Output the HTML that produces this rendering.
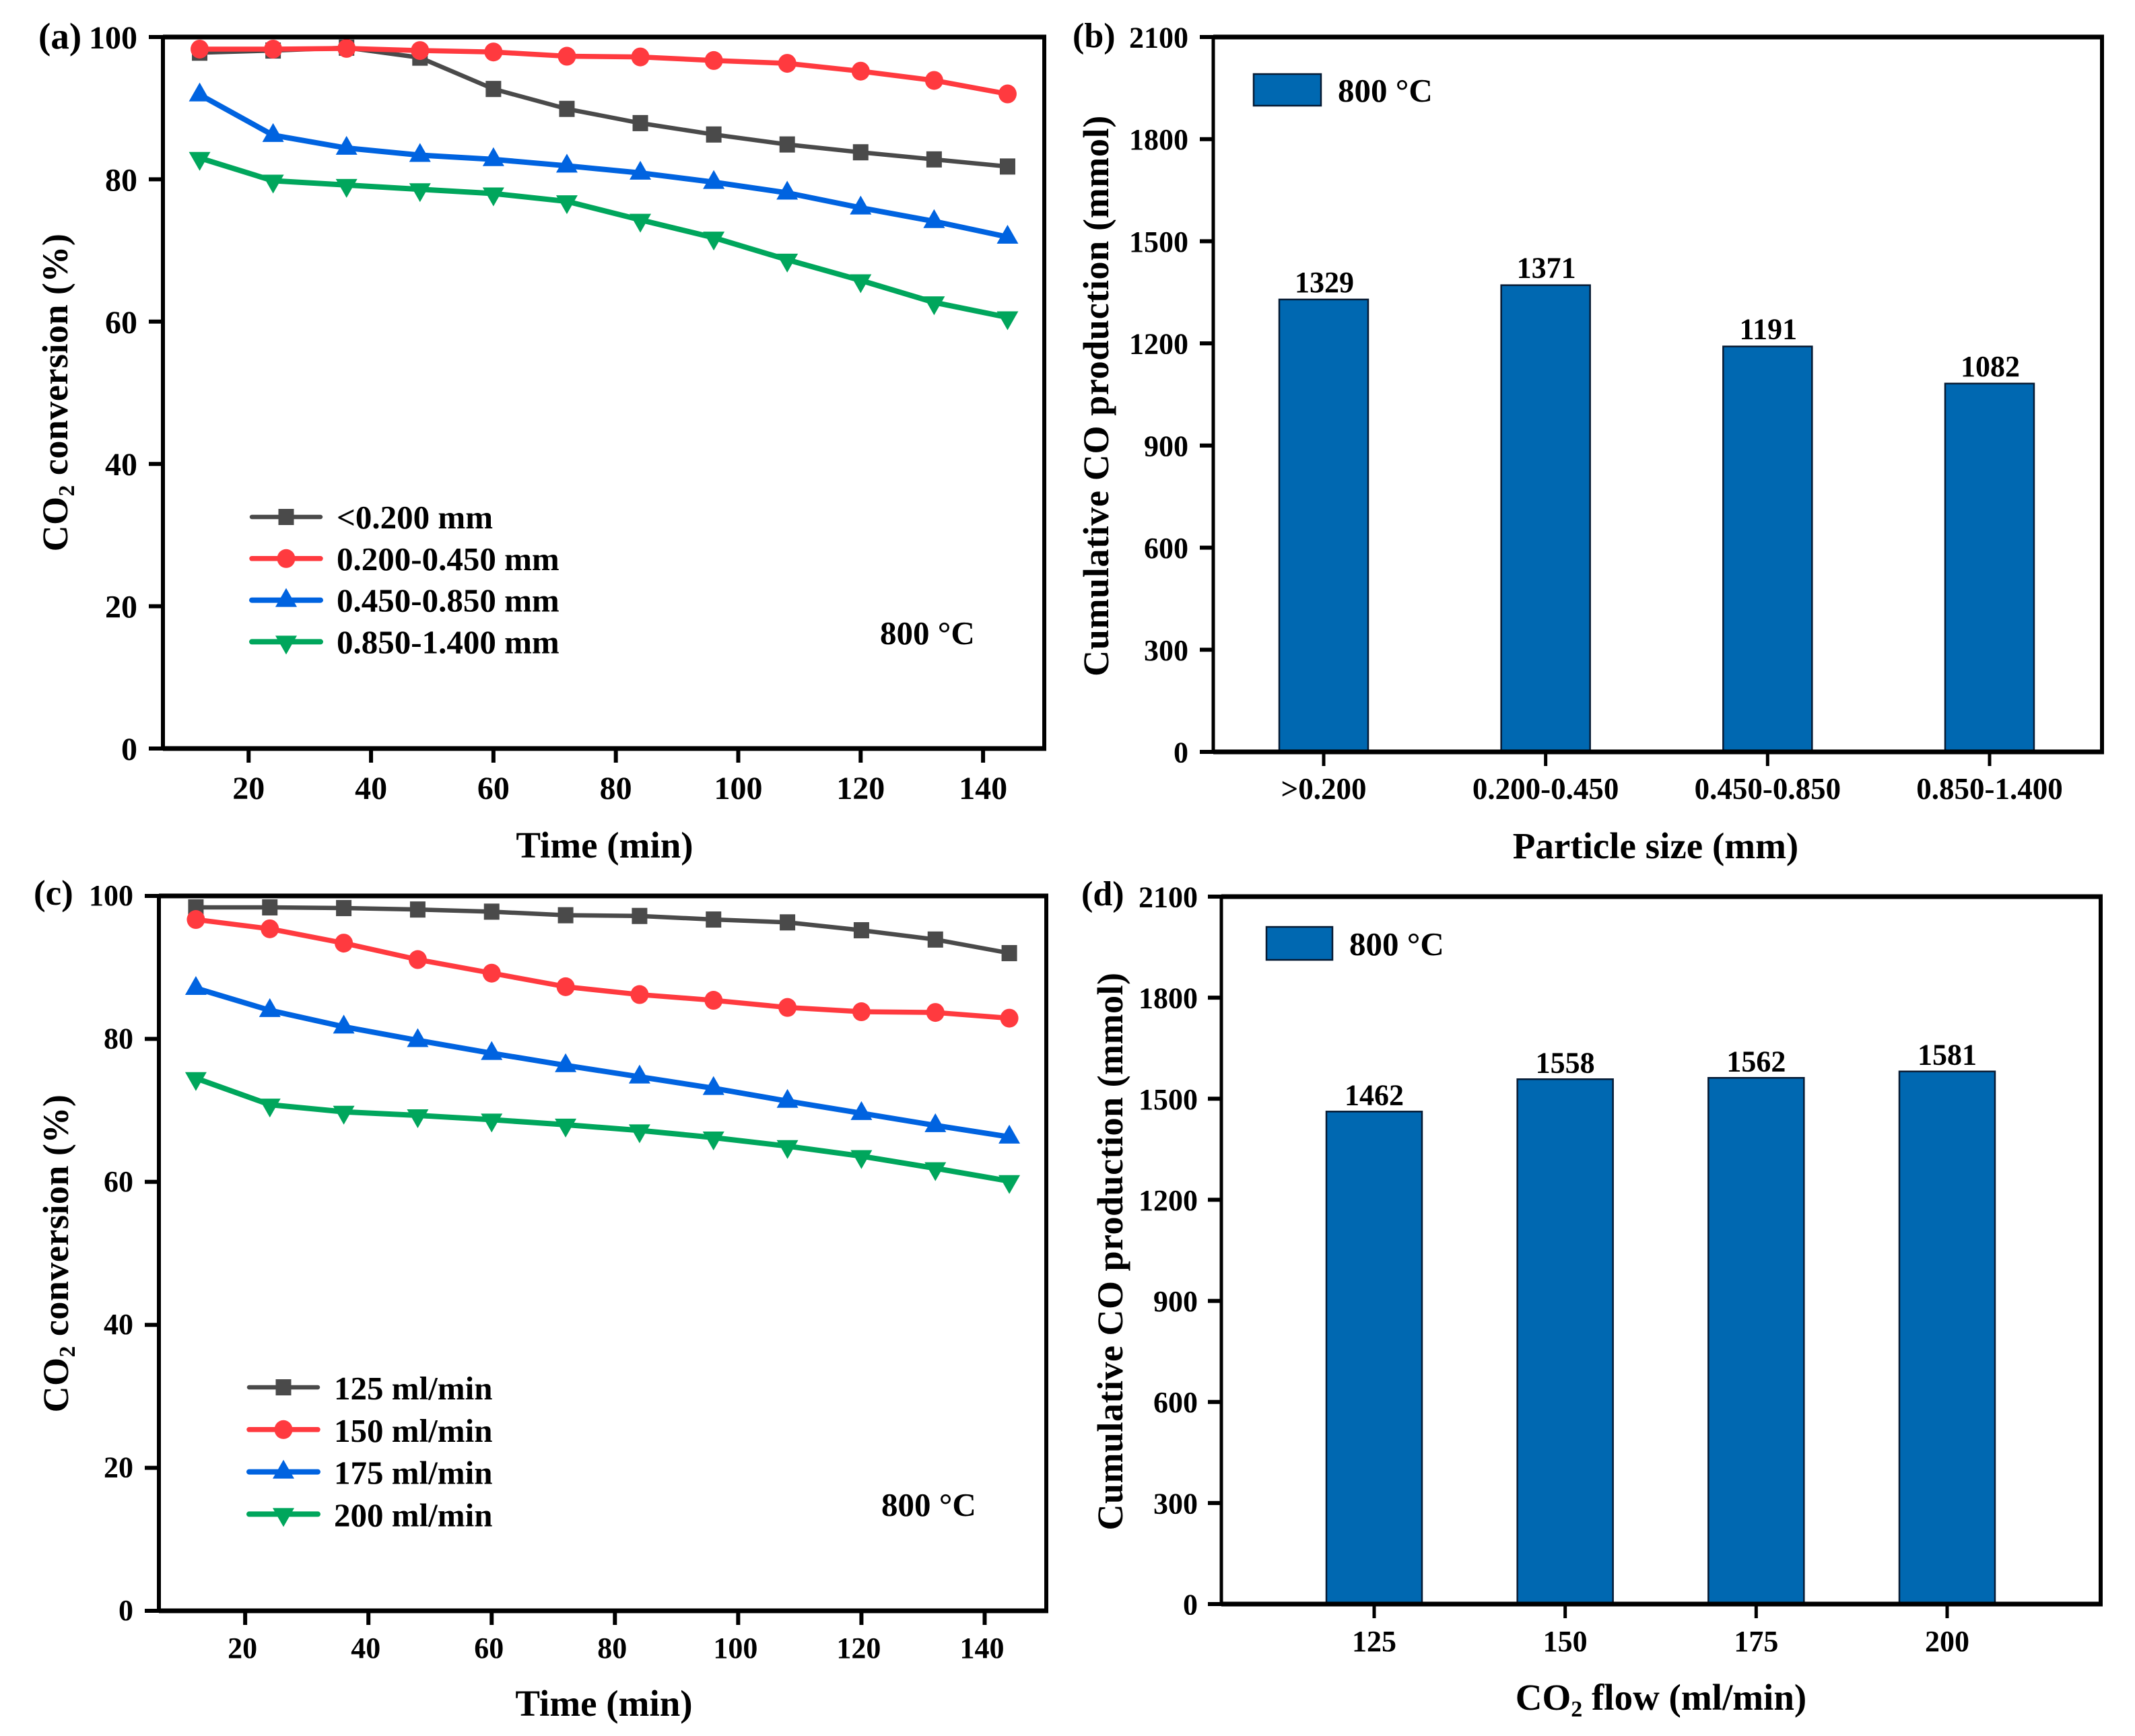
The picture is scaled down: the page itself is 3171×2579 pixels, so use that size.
<!DOCTYPE html>
<html lang="en">
<head>
<meta charset="utf-8">
<title>CO2 conversion and cumulative CO production</title>
<style>
html,body{margin:0;padding:0;background:#fff;}
svg{display:block;}
text{font-family:"Liberation Serif","Times New Roman",serif;font-weight:bold;fill:#000;}
</style>
</head>
<body>
<svg id="figure" xmlns="http://www.w3.org/2000/svg" width="3171" height="2579" viewBox="0 0 3171 2579"></svg>
<script>
// Panel (a) data
const timesA = [12,24,36,48,60,72,84,96,108,120,132,144];
const seriesLabelsA = ['<0.200 mm','0.200-0.450 mm','0.450-0.850 mm','0.850-1.400 mm'];
const a020 = [97.8,98.1,98.5,97.1,92.7,89.9,87.9,86.3,84.9,83.8,82.8,81.8];
const a045 = [98.3,98.3,98.4,98.1,97.9,97.3,97.2,96.7,96.3,95.2,93.9,92.0];
const a085 = [91.9,86.2,84.4,83.4,82.8,81.9,80.9,79.6,78.1,76.0,74.1,71.9];
const a140 = [83.0,79.8,79.2,78.6,78.0,76.9,74.3,71.8,68.7,65.8,62.7,60.6];
// Panel (c) data
const timesC = [12,24,36,48,60,72,84,96,108,120,132,144];
const seriesLabelsC = ['125 ml/min','150 ml/min','175 ml/min','200 ml/min'];
const c125 = [98.4,98.4,98.3,98.1,97.8,97.3,97.2,96.7,96.3,95.2,93.9,92.0];
const c150 = [96.7,95.4,93.4,91.1,89.2,87.3,86.2,85.4,84.4,83.8,83.7,82.9];
const c175 = [87.1,84.0,81.7,79.8,78.0,76.3,74.7,73.1,71.3,69.6,67.9,66.3];
const c200 = [74.5,70.8,69.8,69.3,68.7,68.0,67.2,66.2,65.0,63.6,61.9,60.1];
// Shared line-chart ticks
const lineXTicks = [20,40,60,80,100,120,140];
const lineYTicks = [0,20,40,60,80,100];
// Panel (b) data
const categoriesB = ['>0.200','0.200-0.450','0.450-0.850','0.850-1.400'];
const valuesB = [1329,1371,1191,1082];
// Panel (d) data
const categoriesD = ['125','150','175','200'];
const valuesD = [1462,1558,1562,1581];
// Shared bar-chart ticks
const barYTicks = [0,300,600,900,1200,1500,1800,2100];

const NS = 'http://www.w3.org/2000/svg';
const root = document.getElementById('figure');

function shape(parent, tag, name, attrs){
  const el = document.createElementNS(NS, tag);
  
  
  for (const k in attrs) el.setAttribute(k, attrs[k]);
  parent.appendChild(el);
  return el;
}
function group(parent, name){
  return shape(parent, 'g', name, {});
}
function label(parent, name, str, x, y, size, anchor, spacing){
  const el = shape(parent, 'text', name, {x:x, y:y, 'font-size':size, 'text-anchor':anchor || 'middle'});
  if (spacing) el.setAttribute('letter-spacing', spacing);
  el.textContent = str;
  return el;
}
function sub(parent, str, size, shift){
  const t = document.createElementNS(NS, 'tspan');
  t.textContent = str;
  if (size) t.setAttribute('font-size', size);
  if (shift) t.setAttribute('dy', shift);
  parent.appendChild(t);
}
function linear(d0, d1, r0, r1){
  return function(v){ return r0 + (v - d0) * (r1 - r0) / (d1 - d0); };
}
function rotatedCO2(parent, name, x, y, size, spacing){
  const el = shape(parent, 'text', name, {
    'font-size':size, 'text-anchor':'middle', transform:'translate('+x+' '+y+') rotate(-90)', 'letter-spacing':spacing
  });
  sub(el, 'CO');
  sub(el, '2', size*0.62, 10);
  sub(el, ' conversion (%)', size, -10);
  return el;
}
function marker(parent, name, kind, x, y, color){
  if (kind === 'square') {
    shape(parent, 'rect', name, {x:x-11.5, y:y-12, width:23, height:24, fill:color});
  } else if (kind === 'circle') {
    shape(parent, 'ellipse', name, {cx:x, cy:y, rx:13.5, ry:14, fill:color});
  } else if (kind === 'up') {
    shape(parent, 'polygon', name, {points:(x-16)+','+(y+10)+' '+(x+16)+','+(y+10)+' '+x+','+(y-18), fill:color});
  } else {
    shape(parent, 'polygon', name, {points:(x-16)+','+(y-9)+' '+(x+16)+','+(y-9)+' '+x+','+(y+19), fill:color});
  }
}
function frame(parent, box, widths){
  const s = group(parent, 'axes-frame');
  shape(s, 'line', 'frame-top', {x1:box.left, x2:box.right+widths.right/2, y1:box.top, y2:box.top, stroke:'#000', 'stroke-width':widths.top});
  shape(s, 'line', 'frame-bottom', {x1:box.left, x2:box.right+widths.right/2, y1:box.bottom, y2:box.bottom, stroke:'#000', 'stroke-width':widths.bottom});
  shape(s, 'line', 'frame-left', {x1:box.left, x2:box.left, y1:box.top, y2:box.bottom, stroke:'#000', 'stroke-width':widths.left});
  shape(s, 'line', 'frame-right', {x1:box.right, x2:box.right, y1:box.top, y2:box.bottom, stroke:'#000', 'stroke-width':widths.right});
}
function yAxis(parent, ticks, y, box, tickLen, labelRight, baseShift, size){
  const s = group(parent, 'y-axis');
  ticks.forEach(function(v){
    shape(s, 'line', 'y-tick', {x1:box.left-tickLen, x2:box.left, y1:y(v), y2:y(v), stroke:'#000', 'stroke-width':6});
    label(s, 'y-tick-label', String(v), labelRight, y(v)+baseShift, size, 'end');
  });
}

const LINE_STYLES = [
  {kind:'square', color:'#4a4a4a', width:6.5},
  {kind:'circle', color:'#ff3a3f', width:7.5},
  {kind:'up', color:'#0063e0', width:8},
  {kind:'down', color:'#00a65c', width:8}
];

function linePanel(cfg){
  const p = group(root, cfg.name);
  const x = linear(6, 150, cfg.box.left, cfg.box.right);
  const y = linear(0, 100, cfg.box.bottom, cfg.box.top);

  cfg.series.forEach(function(values, i){
    const st = LINE_STYLES[i];
    const sg = group(p, 'series-' + (i+1));
    const pts = values.map(function(v, j){ return x(cfg.times[j]) + ',' + y(v); }).join(' ');
    shape(sg, 'polyline', 'series-line', {points:pts, fill:'none', stroke:st.color, 'stroke-width':st.width, 'stroke-linejoin':'round'});
    values.forEach(function(v, j){
      marker(sg, 'data-point', st.kind, x(cfg.times[j]), y(v), st.color);
    });
  });

  frame(p, cfg.box, {top:7, bottom:7, left:6, right:6});
  yAxis(p, lineYTicks, y, cfg.box, 21, cfg.yLabelRight, cfg.yBaseShift, cfg.tickSize);

  const xs = group(p, 'x-axis');
  lineXTicks.forEach(function(v){
    shape(xs, 'line', 'x-tick', {x1:x(v), x2:x(v), y1:cfg.box.bottom, y2:cfg.box.bottom+21, stroke:'#000', 'stroke-width':6});
    label(xs, 'x-tick-label', String(v), x(v)+cfg.xLabelShift, cfg.xLabelY, cfg.tickSize);
  });
  label(p, 'x-axis-title', 'Time (min)', cfg.titleX, cfg.titleY, 55);
  rotatedCO2(p, 'y-axis-title', cfg.yTitleX, cfg.yTitleY, 54, 0.5);
  label(p, 'panel-label', cfg.tag, cfg.tagX, cfg.tagY, cfg.tagSize, 'start');
  label(p, 'temperature-note', '800 °C', cfg.noteX, cfg.noteY, 49, 'start');

  const lg = group(p, 'legend');
  cfg.labels.forEach(function(txt, i){
    const st = LINE_STYLES[i];
    const ly = cfg.legend.y0 + i * cfg.legend.step;
    const e = group(lg, 'legend-entry');
    shape(e, 'line', 'legend-line', {x1:cfg.legend.x0, x2:cfg.legend.x1, y1:ly, y2:ly, stroke:st.color, 'stroke-width':st.width, 'stroke-linecap':'round'});
    marker(e, 'legend-marker', st.kind, (cfg.legend.x0+cfg.legend.x1)/2, ly, st.color);
    label(e, 'legend-label', txt, cfg.legend.textX, ly+cfg.legend.base, cfg.legend.size, 'start');
  });
}

function barPanel(cfg){
  const p = group(root, cfg.name);
  const y = linear(0, 2100, cfg.box.bottom, cfg.box.top);
  const x = linear(0, cfg.categories.length-1, cfg.firstX, cfg.lastX);

  const bars = group(p, 'bars');
  cfg.values.forEach(function(v, i){
    shape(bars, 'rect', 'bar-' + cfg.categories[i], {x:x(i)-cfg.barW/2, y:y(v), width:cfg.barW, height:cfg.box.bottom-y(v), fill:'#0068b1', stroke:'#061a33', 'stroke-width':2.5});
    label(bars, 'bar-value', String(v), x(i)+cfg.valueShift, y(v)-cfg.valueGap, 44);
  });

  frame(p, cfg.box, {top:7, bottom:7, left:5, right:6});
  yAxis(p, barYTicks, y, cfg.box, 20, cfg.yLabelRight, 15.5, 44);

  const xs = group(p, 'x-axis');
  cfg.categories.forEach(function(c, i){
    shape(xs, 'line', 'x-tick', {x1:x(i), x2:x(i), y1:cfg.box.bottom, y2:cfg.box.bottom+21, stroke:'#000', 'stroke-width':5});
    label(xs, 'x-tick-label', c, x(i), cfg.xLabelY, cfg.xLabelSize);
  });

  const yt = shape(p, 'text', 'y-axis-title', {'font-size':54, 'text-anchor':'middle', transform:'translate('+cfg.yTitleX+' '+cfg.yTitleY+') rotate(-90)', 'letter-spacing':cfg.yTitleSpacing});
  yt.textContent = 'Cumulative CO production (mmol)';

  if (cfg.co2Title) {
    const t = shape(p, 'text', 'x-axis-title', {x:cfg.titleX, y:cfg.titleY, 'font-size':55, 'text-anchor':'middle'});
    sub(t, 'CO');
    sub(t, '2', 34, 10);
    sub(t, ' flow (ml/min)', 55, -10);
  } else {
    label(p, 'x-axis-title', cfg.title, cfg.titleX, cfg.titleY, 55);
  }
  label(p, 'panel-label', cfg.tag, cfg.tagX, cfg.tagY, 52, 'start');

  const lg = group(p, 'legend');
  shape(lg, 'rect', 'legend-swatch', {x:cfg.legend.x, y:cfg.legend.y, width:cfg.legend.w, height:cfg.legend.h, fill:'#0068b1', stroke:'#061a33', 'stroke-width':2.5});
  label(lg, 'legend-label', '800 °C', cfg.legend.textX, cfg.legend.textY, 49, 'start');
}

linePanel({
  name:'panel-a-conversion-by-particle-size', tag:'(a)', tagX:57, tagY:72, tagSize:55,
  box:{left:242,right:1551,top:55,bottom:1112},
  times:timesA, series:[a020,a045,a085,a140], labels:seriesLabelsA,
  yLabelRight:204, yBaseShift:17, tickSize:48, xLabelShift:0, xLabelY:1187,
  titleX:898, titleY:1274, yTitleX:100, yTitleY:583,
  noteX:1307, noteY:957,
  legend:{x0:374,x1:476,y0:768,step:61.8,textX:500,base:17,size:49}
});
barPanel({
  name:'panel-b-co-by-particle-size', tag:'(b)', tagX:1593, tagY:70,
  box:{left:1802,right:3122,top:55,bottom:1117},
  categories:categoriesB, values:valuesB, firstX:1966, lastX:2955, barW:132, valueShift:1, valueGap:11,
  yLabelRight:1765, xLabelY:1187, xLabelSize:45,
  title:'Particle size (mm)', titleX:2459, titleY:1275,
  yTitleX:1646, yTitleY:588, yTitleSpacing:0.65,
  legend:{x:1862,y:110,w:100,h:47,textX:1987,textY:151}
});
linePanel({
  name:'panel-c-conversion-by-flow', tag:'(c)', tagX:50, tagY:1344, tagSize:53,
  box:{left:236,right:1554,top:1331,bottom:2393},
  times:timesC, series:[c125,c150,c175,c200], labels:seriesLabelsC,
  yLabelRight:198, yBaseShift:14, tickSize:44, xLabelShift:-4, xLabelY:2463,
  titleX:897, titleY:2549, yTitleX:101, yTitleY:1862,
  noteX:1309, noteY:2252,
  legend:{x0:370,x1:472,y0:2061,step:62.8,textX:496,base:18,size:49}
});
barPanel({
  name:'panel-d-co-by-flow', tag:'(d)', tagX:1606, tagY:1345,
  box:{left:1814,right:3120,top:1332,bottom:2383},
  categories:categoriesD, values:valuesD, firstX:2041, lastX:2892, barW:142, valueShift:0, valueGap:10,
  yLabelRight:1779, xLabelY:2453, xLabelSize:44,
  co2Title:true, titleX:2467, titleY:2540,
  yTitleX:1667, yTitleY:1859, yTitleSpacing:0.5,
  legend:{x:1881,y:1377,w:98,h:49,textX:2004,textY:1419}
});
</script>
</body>
</html>
